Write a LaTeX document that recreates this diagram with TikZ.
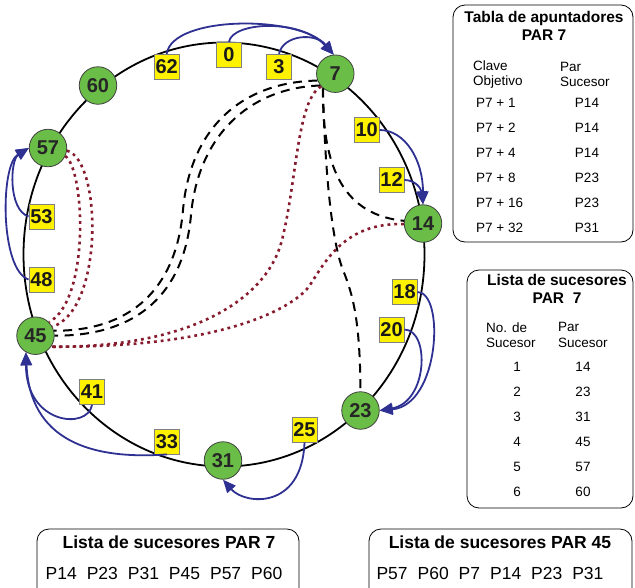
\documentclass[tikz,border=0pt]{standalone}
\usepackage{fontspec}
\setmainfont{Liberation Sans}
\usepackage{xcolor}
\definecolor{pargreen}{HTML}{6ABD46}
\definecolor{keyyellow}{HTML}{FFF200}
\definecolor{fingerblue}{HTML}{2E3192}
\definecolor{succred}{HTML}{861B2D}
\usepackage{tikz}
\usetikzlibrary{arrows.meta, positioning, calc}
\newcommand\listgap{\hspace{0.57em}}

\begin{document}
\begin{tikzpicture}[x=1pt, y=-1pt, >={Triangle[length=13pt, width=11pt]},
  parnode/.style={circle, draw=black!75, line width=0.8pt, fill=pargreen,
                  minimum size=37.5pt, inner sep=0pt, text=black!85,
                  font=\fontsize{20}{20}\selectfont\bfseries},
  keybox/.style={draw=black!50, line width=0.8pt, fill=keyyellow,
                 minimum size=25pt, inner sep=0pt, text=black!90,
                 font=\fontsize{20}{20}\selectfont\bfseries},
  finger/.style={->, line width=1.8pt, fingerblue},
  jump/.style={line width=2pt, dash pattern=on 9pt off 6.5pt},
  succ/.style={line width=2.6pt, succred, dash pattern=on 2.8pt off 4pt},
  tablebox/.style={draw, line width=0.8pt, rounded corners=12pt},
  tabtitle/.style={align=center, inner sep=0pt, font=\fontsize{15.5}{18}\selectfont\bfseries},
  tabtext/.style={align=left, inner sep=0pt, font=\fontsize{13.5}{15.5}\selectfont},
  listtitle/.style={inner sep=0pt, font=\fontsize{17.5}{20}\selectfont\bfseries},
  listtext/.style={inner sep=0pt, font=\fontsize{17.5}{20}\selectfont}]

  \useasboundingbox (0,0) rectangle (635,587);
  \clip (0,0) rectangle (635,587);

  % anillo
  \draw[line width=1.8pt] (224,254.5) ellipse [x radius=200.5, y radius=212];

  % pares
  \node[parnode] (p7)  at (335.3,73.7)  {7};
  \node[parnode] (p14) at (423,223.5)   {14};
  \node[parnode] (p23) at (360.5,410.5) {23};
  \node[parnode] (p31) at (223,460.5)   {31};
  \node[parnode] (p45) at (35.5,335.7)  {45};
  \node[parnode] (p57) at (48,148)      {57};
  \node[parnode] (p60) at (98,85.5)     {60};

  % claves
  \node[keybox] (k0)  at (229,54.8)    {0};
  \node[keybox] (k3)  at (279,66.8)    {3};
  \node[keybox] (k10) at (366.7,130)   {10};
  \node[keybox] (k12) at (391.5,180)   {12};
  \node[keybox] (k18) at (404.5,292)   {18};
  \node[keybox] (k20) at (391.5,329.5) {20};
  \node[keybox] (k25) at (304.5,429.5) {25};
  \node[keybox] (k33) at (167,441.5)   {33};
  \node[keybox] (k41) at (92,392)      {41};
  \node[keybox] (k48) at (41.5,279.5)  {48};
  \node[keybox] (k53) at (41.5,216.5)  {53};
  \node[keybox] (k62) at (166.7,66.8)  {62};

  % apuntadores de PAR 7
  \draw[jump] (p7.201) .. controls (240,82) and (190,130) .. (183,210)
              .. controls (176,290) and (130,331) .. (p45.15);
  \draw[jump] (p7.218) .. controls (248,88) and (198,137) .. (191,215)
              .. controls (184,293) and (138,336) .. (p45.0);
  \draw[jump] (p7.230) .. controls (322,170) and (345,215) .. (p14.172);
  \draw[jump] (p7.230) .. controls (325,180) and (333,245) .. (343,270)
              .. controls (353,295) and (360,320) .. (p23.north);

  % sucesores
  \draw[succ] (p57.-25) .. controls (85,170) and (90,300) .. (p45.45);
  \draw[succ] (p57.-8) .. controls (102,160) and (104,310) .. (p45.28);
  \draw[succ] (p7.222) .. controls (297,100) and (297,180) .. (282,240)
              .. controls (267,300) and (190,348) .. (p45.-35);
  \draw[succ] (p14.182) .. controls (345,222) and (325,262) .. (310,285)
              .. controls (297,305) and (230,348) .. (p45.-35);

  % claves hacia su par
  \draw[finger] (k62.north) .. controls (172,15) and (300,15) .. (p7.95);
  \draw[finger] (k0.north) .. controls (232,22) and (300,18) .. (p7.95);
  \draw[finger] (k3.north) .. controls (283,35) and (315,32) .. (p7.95);
  \draw[finger] (k10.east) .. controls (405,130) and (423,160) .. (p14.north);
  \draw[finger] (k12.east) .. controls (415,180) and (421,188) .. (p14.north);
  \draw[finger] (k18.east) .. controls (445,292) and (440,405) .. (p23.east);
  \draw[finger] (k20.east) .. controls (430,330) and (428,402) .. (p23.east);
  \draw[finger] (k25.south) .. controls (302,510) and (245,505) .. (p31.south);
  \draw[finger] (k33.south) .. controls (90,460) and (30,440) .. (p45.240);
  \draw[finger] (k41.south) .. controls (88,430) and (26,425) .. (p45.240);
  \draw[finger] (k48.west) .. controls (0,270) and (0,165) .. (p57.west);
  \draw[finger] (k53.west) .. controls (8,210) and (10,160) .. (p57.west);

  % tabla de apuntadores
  \node[tablebox, minimum width=180pt, minimum height=237pt] (apuntbox) at (543,123.5) {};
  \node[tabtitle] (apunttit) at (544,26) {Tabla de apuntadores\\PAR 7};
  \node[tabtext, anchor=west] (apuntcol1) at (473,74.5) {Clave\\Objetivo};
  \node[tabtext, anchor=west] (apuntcol2) at (560,74.5) {Par\\Sucesor};
  \foreach \k/\s [count=\i] in {1/14, 2/14, 4/14, 8/23, 16/23, 32/31} {
    \node[tabtext, anchor=west] (clave\i) at (476,{78+25*\i}) {P7 + \k};
    \node[tabtext] (parsuc\i) at (587,{78+25*\i}) {P\s};
  }

  % lista de sucesores
  \node[tablebox, minimum width=166pt, minimum height=238pt] (sucbox) at (550,389) {};
  \node[tabtitle] (suctit) at (557,289) {Lista de sucesores\\PAR\ \ 7};
  \node[tabtext, anchor=west] (succol1) at (486,335) {No. de\\Sucesor};
  \node[tabtext, anchor=west] (succol2) at (558,335) {Par\\Sucesor};
  \foreach \s [count=\i] in {14, 23, 31, 45, 57, 60} {
    \node[tabtext] (sucnum\i) at (517,{342+25*\i}) {\i};
    \node[tabtext] (sucpar\i) at (583,{342+25*\i}) {\s};
  }

  % listas abajo
  \node[tablebox, minimum width=262pt, minimum height=91pt] (lista7) at (168,574.5) {};
  \node[listtitle] (lista7tit) at (169,542) {Lista de sucesores PAR 7};
  \node[listtext] (lista7pares) at (164,573)
    {P14\listgap P23\listgap P31\listgap P45\listgap P57\listgap P60};
  \node[tablebox, minimum width=263pt, minimum height=91pt] (lista45) at (500.5,574.5) {};
  \node[listtitle] (lista45tit) at (500,542) {Lista de sucesores PAR 45};
  \node[listtext] (lista45pares) at (490,573)
    {P57\listgap P60\listgap P7\listgap P14\listgap P23\listgap P31};
\end{tikzpicture}
\end{document}
